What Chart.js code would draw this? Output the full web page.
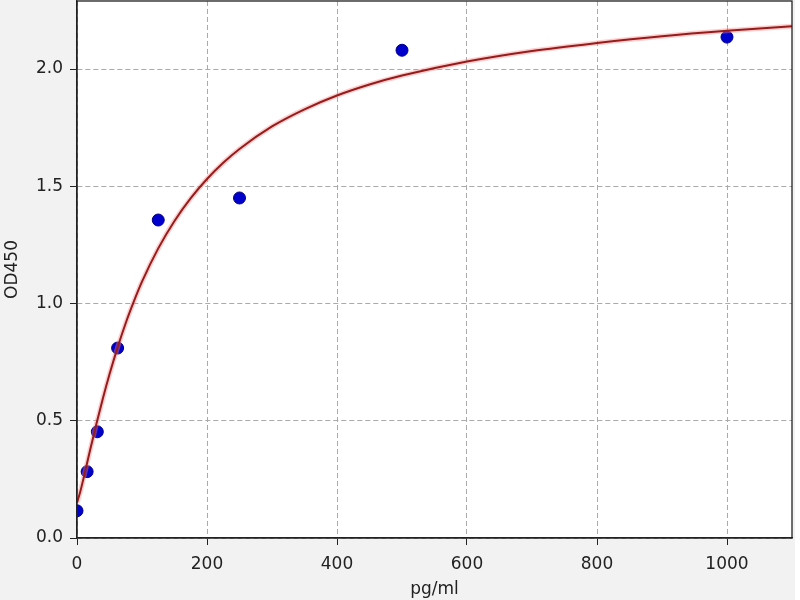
<!DOCTYPE html>
<html>
<head>
<meta charset="utf-8">
<script src="https://cdn.jsdelivr.net/npm/chart.js@4.4.1/dist/chart.umd.min.js"></script>
<style>
  html, body { margin: 0; padding: 0; background: #ffffff; }
  #wrap { width: 800px; height: 600px; }
</style>
</head>
<body>
<div id="wrap"><canvas id="od-curve"></canvas></div>
<script>
// standard points
const concs = [0, 15.6, 31.25, 62.5, 125, 250, 500, 1000];
const ods = [0.116, 0.283, 0.453, 0.81, 1.356, 1.45, 2.08, 2.136];

// fitted curve
const curveX = [0, 5, 10, 15, 20, 30, 40, 50, 62.5, 75, 87.5, 100, 125, 150, 175, 200, 225, 250, 300, 350, 400, 450, 500, 600, 700, 800, 900, 1000, 1100];
const curveY = [0.15, 0.197, 0.254, 0.313, 0.373, 0.488, 0.597, 0.698, 0.813, 0.917, 1.009, 1.093, 1.235, 1.352, 1.449, 1.531, 1.6, 1.659, 1.755, 1.828, 1.887, 1.934, 1.972, 2.032, 2.077, 2.111, 2.14, 2.163, 2.182];

const xTicks = [0, 200, 400, 600, 800, 1000];
const yTicks = [0.0, 0.5, 1.0, 1.5, 2.0];

const ctx = document.getElementById('od-curve');

const frame = {
  id: 'frame',
  beforeDraw(chart) {
    const c = chart.ctx, a = chart.chartArea;
    c.save();
    c.fillStyle = '#ffffff';
    c.fillRect(0, 0, chart.width, chart.height);
    c.fillStyle = '#f2f2f2';
    c.fillRect(0, 0, 795, chart.height);
    c.fillStyle = '#ffffff';
    c.fillRect(a.left, a.top, a.right - a.left, a.bottom - a.top);
    c.restore();
  },
  afterDraw(chart) {
    const c = chart.ctx, a = chart.chartArea;
    c.save();
    c.strokeStyle = '#222';
    c.lineWidth = 1.3;
    c.strokeRect(a.left, a.top, a.right - a.left, a.bottom - a.top);
    c.restore();
  }
};

const pts = (xs, ys) => xs.map((x, i) => ({ x: x, y: ys[i] }));
const tickFont = { family: 'DejaVu Sans', size: 17 };

new Chart(ctx, {
  type: 'scatter',
  data: {
    datasets: [
      {
        label: 'glow',
        type: 'line',
        data: pts(curveX, curveY),
        borderColor: 'rgba(255,130,130,0.4)',
        borderWidth: 5,
        pointRadius: 0,
        cubicInterpolationMode: 'monotone',
        order: 1
      },
      {
        label: 'fit',
        type: 'line',
        data: pts(curveX, curveY),
        borderColor: '#961c1c',
        borderWidth: 2,
        pointRadius: 0,
        cubicInterpolationMode: 'monotone',
        order: 0
      },
      {
        label: 'standards',
        data: pts(concs, ods),
        backgroundColor: '#0000cc',
        borderColor: '#00008b',
        borderWidth: 1,
        pointRadius: 6,
        order: 2
      }
    ]
  },
  options: {
    responsive: true,
    maintainAspectRatio: false,
    animation: false,
    layout: { autoPadding: false, padding: { top: 1, right: 8, left: 0, bottom: 0 } },
    plugins: {
      legend: { display: false },
      tooltip: { enabled: false }
    },
    scales: {
      x: {
        type: 'linear',
        min: 0,
        max: 1100,
        afterBuildTicks: (s) => { s.ticks = xTicks.map(v => ({ value: v })); },
        afterFit: (s) => { s.height = 62; s.paddingLeft = 0; s.paddingRight = 0; },
        ticks: {
          color: '#222',
          font: tickFont,
          padding: 9,
          callback: (v) => String(v)
        },
        grid: {
          color: '#aaaaaa',
          tickColor: '#222',
          tickLength: 7
        },
        border: { color: '#222', width: 1.3, dash: [5, 3] },
        title: {
          display: true,
          text: 'pg/ml',
          color: '#222',
          font: tickFont,
          padding: { top: 0, bottom: 0 }
        }
      },
      y: {
        type: 'linear',
        min: 0,
        max: 2.29,
        afterBuildTicks: (s) => { s.ticks = yTicks.map(v => ({ value: v })); },
        afterFit: (s) => { s.width = 77; s.paddingTop = 0; s.paddingBottom = 0; },
        ticks: {
          color: '#222',
          font: tickFont,
          padding: 7,
          callback: (v) => Number(v).toFixed(1)
        },
        grid: {
          color: '#aaaaaa',
          tickColor: '#222',
          tickLength: 7
        },
        border: { color: '#222', width: 1.3, dash: [5, 3] },
        title: {
          display: true,
          text: 'OD450',
          color: '#222',
          font: tickFont,
          padding: { top: 2, bottom: 0 }
        }
      }
    }
  },
  plugins: [frame]
});
</script>
</body>
</html>
